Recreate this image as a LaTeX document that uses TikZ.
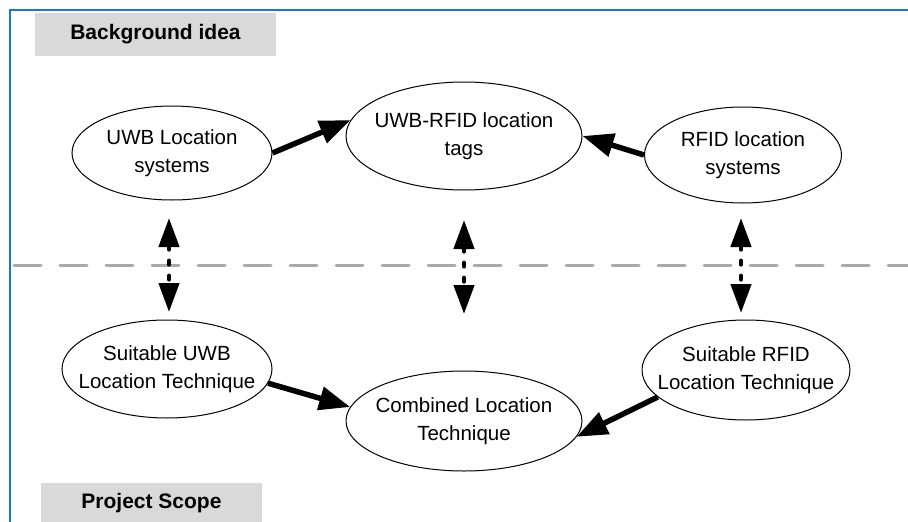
\documentclass[tikz,border=0pt]{standalone}
\usepackage{fontspec}
\setmainfont{Liberation Sans}
\usetikzlibrary{shapes.geometric,arrows.meta}
\definecolor{frameblue}{HTML}{1C75CF}
\definecolor{boxgray}{HTML}{D9D9D9}
\definecolor{sepgray}{HTML}{AAAAAA}
\tikzset{
  oval/.style={draw=black, line width=1pt, ellipse, inner sep=-40pt, align=center,
    font=\fontsize{20.5}{28}\selectfont},
  titlebox/.style={fill=boxgray, inner sep=0pt, font=\fontsize{21}{24}\selectfont\bfseries},
  bigarrow/.style={line width=5.5pt, -{Triangle[length=31pt,width=23pt]}},
  vdarrow/.style={line width=4.5pt, dash pattern=on 3.5pt off 11.5pt, line cap=round,
    {Triangle[length=29pt,width=20pt]}-{Triangle[length=29pt,width=20pt]}},
  sepline/.style={draw=sepgray, line width=3pt, line cap=round, dash pattern=on 27pt off 19pt},
  frame/.style={draw=frameblue, line width=2pt}
}
\begin{document}
\begin{tikzpicture}[x=1pt,y=-1pt]
\useasboundingbox (0,0) rectangle (908,522);
\fill[white] (0,0) rectangle (908,522);
% frame
\coordinate (fr1) at (908,10);
\coordinate (fr2) at (10,10);
\coordinate (fr3) at (10,522);
\draw[frame] (fr1) -- (fr2) -- (fr3);
% separator
\coordinate (s1) at (14,265);
\coordinate (s2) at (908,265);
\draw[sepline] (s1) -- (s2);
% title boxes
\node[titlebox, minimum width=241pt, minimum height=43pt] (bg) at (155.5,34.5) {Background idea};
\node[titlebox, minimum width=221pt, minimum height=40pt] (ps) at (151.5,503) {Project Scope};
% ovals
\node[oval, minimum width=200pt, minimum height=94pt] (uwb) at (172,153) {UWB Location\\systems};
\node[oval, minimum width=236pt, minimum height=108pt] (tags) at (464,136) {UWB-RFID location\\tags};
\node[oval, minimum width=197pt, minimum height=96pt] (rfid) at (743,155) {RFID location\\systems};
\node[oval, minimum width=210pt, minimum height=98pt] (suwb) at (167,369) {Suitable UWB\\Location Technique};
\node[oval, minimum width=236pt, minimum height=100pt] (comb) at (464,421) {Combined Location\\Technique};
\node[oval, minimum width=208pt, minimum height=100pt] (srfid) at (746,370) {Suitable RFID\\Location Technique};
% arrows
\draw[bigarrow] (uwb.east) -- (tags.172);
\draw[bigarrow] (rfid.west) -- (tags.east);
\draw[bigarrow] (suwb.-8) -- (comb.173);
\draw[bigarrow] (srfid.197) -- (comb.-8);
% vertical dotted double arrows
\coordinate (v1a) at (169,218); \coordinate (v1b) at (169,312);
\coordinate (v2a) at (464,220); \coordinate (v2b) at (464,314);
\coordinate (v3a) at (741,218); \coordinate (v3b) at (741,313);
\draw[vdarrow] (v1a) -- (v1b);
\draw[vdarrow] (v2a) -- (v2b);
\draw[vdarrow] (v3a) -- (v3b);
\end{tikzpicture}
\end{document}
